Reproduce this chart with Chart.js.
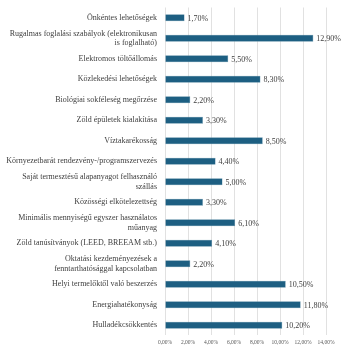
<!DOCTYPE html>
<html>
<head>
<meta charset="utf-8">
<script src="https://cdn.jsdelivr.net/npm/chart.js@4"></script>
<style>
  html, body { margin: 0; padding: 0; background: #fff; }
  #wrap { width: 342px; height: 350px; }
</style>
</head>
<body>
<div id="wrap"><canvas id="chart"></canvas></div>
<script>
const categories = [
  'Önkéntes lehetőségek',
  ['Rugalmas foglalási szabályok (elektronikusan', 'is foglalható)'],
  'Elektromos töltőállomás',
  'Közlekedési lehetőségek',
  'Biológiai sokféleség megőrzése',
  'Zöld épületek kialakítása',
  'Víztakarékosság',
  'Környezetbarát rendezvény-/programszervezés',
  ['Saját termesztésű alapanyagot felhasználó', 'szállás'],
  'Közösségi elkötelezettség',
  ['Minimális mennyiségű egyszer használatos', 'műanyag'],
  'Zöld tanúsítványok (LEED, BREEAM stb.)',
  ['Oktatási kezdeményezések a', 'fenntarthatósággal kapcsolatban'],
  'Helyi termelőktől való beszerzés',
  'Energiahatékonyság',
  'Hulladékcsökkentés'
];
const shares = [1.7, 12.9, 5.5, 8.3, 2.2, 3.3, 8.5, 4.4, 5.0, 3.3, 6.1, 4.1, 2.2, 10.5, 11.8, 10.2];
const xTicks = [0, 2, 4, 6, 8, 10, 12, 14];

const pct = v => v.toFixed(2).replace('.', ',') + '%';

// value labels to the right of each bar
const valueLabels = {
  id: 'valueLabels',
  afterDatasetsDraw(chart) {
    const ctx = chart.ctx;
    const meta = chart.getDatasetMeta(0);
    ctx.save();
    ctx.font = '8px "Liberation Serif"';
    ctx.fillStyle = '#404040';
    ctx.textAlign = 'left';
    ctx.textBaseline = 'middle';
    meta.data.forEach((bar, i) => {
      ctx.fillText(pct(shares[i]), bar.x + 3, bar.y + 1);
    });
    ctx.restore();
  }
};

new Chart(document.getElementById('chart'), {
  type: 'bar',
  data: {
    labels: categories,
    datasets: [{
      data: shares,
      backgroundColor: '#1d5f82',
      borderColor: '#5a8aa5',
      borderWidth: 0.5,
      barPercentage: 0.34,
      categoryPercentage: 1
    }]
  },
  options: {
    indexAxis: 'y',
    responsive: true,
    maintainAspectRatio: false,
    animation: false,
    layout: { padding: { top: 7.5, right: 16, bottom: 0, left: 0 } },
    plugins: {
      legend: { display: false },
      tooltip: { enabled: false }
    },
    scales: {
      x: {
        min: 0,
        max: 14,
        afterBuildTicks: scale => { scale.ticks = xTicks.map(v => ({ value: v })); },
        grid: { color: '#d9d9d9', drawTicks: false, lineWidth: 0.8 },
        border: { display: false },
        ticks: {
          padding: 4,
          color: '#595959',
          font: { family: 'Liberation Serif', size: 5.5 },
          callback: v => pct(v)
        }
      },
      y: {
        afterFit: scale => {
          scale.width = 165;
          scale.paddingTop = 0;
          scale.paddingBottom = 0;
        },
        grid: { display: false, drawTicks: false },
        border: { display: false },
        ticks: {
          padding: 8,
          color: '#404040',
          font: { family: 'Liberation Serif', size: 8, lineHeight: 1.2 },
          autoSkip: false
        }
      }
    }
  },
  plugins: [valueLabels]
});
</script>
</body>
</html>
